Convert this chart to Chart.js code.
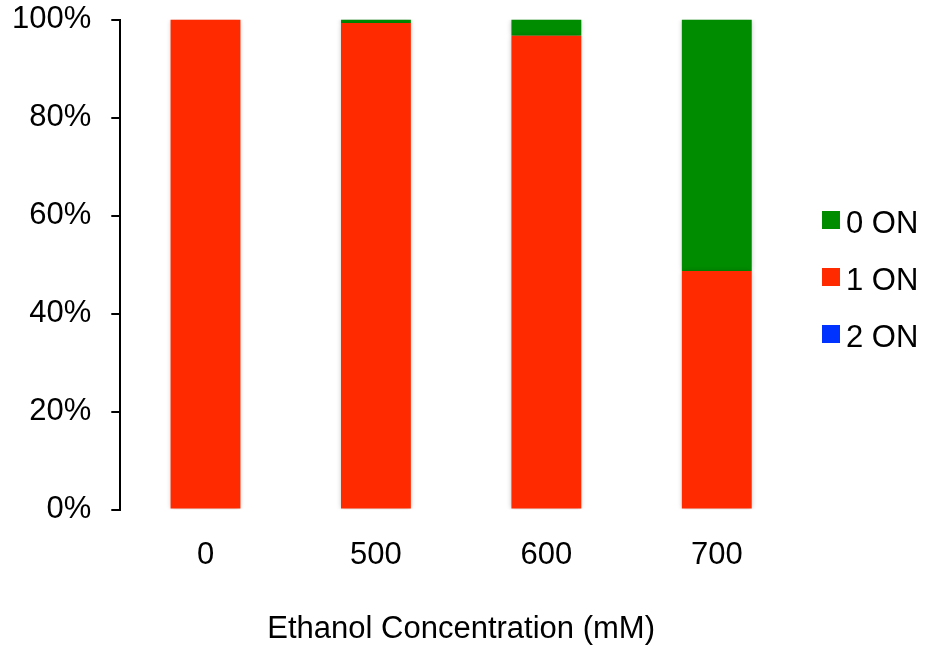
<!DOCTYPE html>
<html>
<head>
<meta charset="utf-8">
<script src="https://cdn.jsdelivr.net/npm/chart.js@4"></script>
<style>
  html, body { margin: 0; padding: 0; background: #fff; }
  #wrap { position: relative; width: 927px; height: 650px; }
  #legend { position: absolute; left: 822px; top: 194px; font: 31px 'Liberation Sans', Arial, sans-serif; color: #000; }
  #legend .item { display: flex; align-items: center; height: 57px; }
  #legend .box { width: 18px; height: 18px; margin-right: 6px; position: relative; top: -3px; }
</style>
</head>
<body>
<div id="wrap"><canvas id="chart"></canvas><div id="legend"></div></div>
<script>
const concentrations = ["0", "500", "600", "700"];
const oneOn  = [100, 99.3, 96.7, 48.7];
const zeroOn = [0, 0.7, 3.3, 51.3];
const twoOn  = [0, 0, 0, 0];
const yTicks = [0, 20, 40, 60, 80, 100];

const FONT = "'Liberation Sans', Arial, sans-serif";

// soft shadow behind the bars, like the original
const barShadow = {
  id: "barShadow",
  beforeDatasetsDraw(c) {
    c.ctx.save();
    c.ctx.shadowColor = "rgba(0,0,0,0.28)";
    c.ctx.shadowBlur = 5;
  },
  afterDatasetsDraw(c) { c.ctx.restore(); }
};

const chart = new Chart(document.getElementById("chart"), {
  type: "bar",
  data: {
    labels: concentrations,
    datasets: [
      { label: "1 ON", data: oneOn,  backgroundColor: "#ff2a00" },
      { label: "0 ON", data: zeroOn, backgroundColor: "#008c00" },
      { label: "2 ON", data: twoOn,  backgroundColor: "#0033ff" }
    ]
  },
  options: {
    responsive: true,
    maintainAspectRatio: false,
    animation: false,
    devicePixelRatio: 1,
    barPercentage: 0.41,
    categoryPercentage: 1,
    layout: { padding: { top: 19.5, left: -8, right: 125, bottom: 0 } },
    plugins: {
      tooltip: { enabled: false },
      legend: { display: false }
    },
    scales: {
      x: {
        stacked: true,
        grid: { display: false, drawTicks: false },
        border: { display: false },
        ticks: { color: "#000", padding: 27, font: { family: FONT, size: 31 } },
        title: {
          display: true, text: "Ethanol Concentration (mM)", color: "#000",
          font: { family: FONT, size: 31 }, padding: { top: 10, bottom: 2 }
        }
      },
      y: {
        stacked: true,
        min: 0, max: 100,
        afterBuildTicks: s => { s.ticks = yTicks.map(v => ({ value: v })); },
        afterFit: s => { s.paddingTop = 0; },
        grid: { display: true, drawOnChartArea: false, drawTicks: true, tickLength: 9, color: "#000", lineWidth: 2 },
        border: { display: true, color: "#000", width: 2 },
        ticks: { color: "#000", padding: 20, font: { family: FONT, size: 31 }, callback: v => v + "%" }
      }
    }
  },
  plugins: [barShadow]
});

// legend in Excel order: 0 ON, 1 ON, 2 ON
const legendEl = document.getElementById("legend");
chart.data.datasets
  .slice()
  .sort((a, b) => a.label.localeCompare(b.label))
  .forEach(ds => {
    const item = document.createElement("div");
    item.className = "item";
    const box = document.createElement("span");
    box.className = "box";
    box.style.background = ds.backgroundColor;
    item.appendChild(box);
    item.appendChild(document.createTextNode(ds.label));
    legendEl.appendChild(item);
  });
</script>
</body>
</html>
